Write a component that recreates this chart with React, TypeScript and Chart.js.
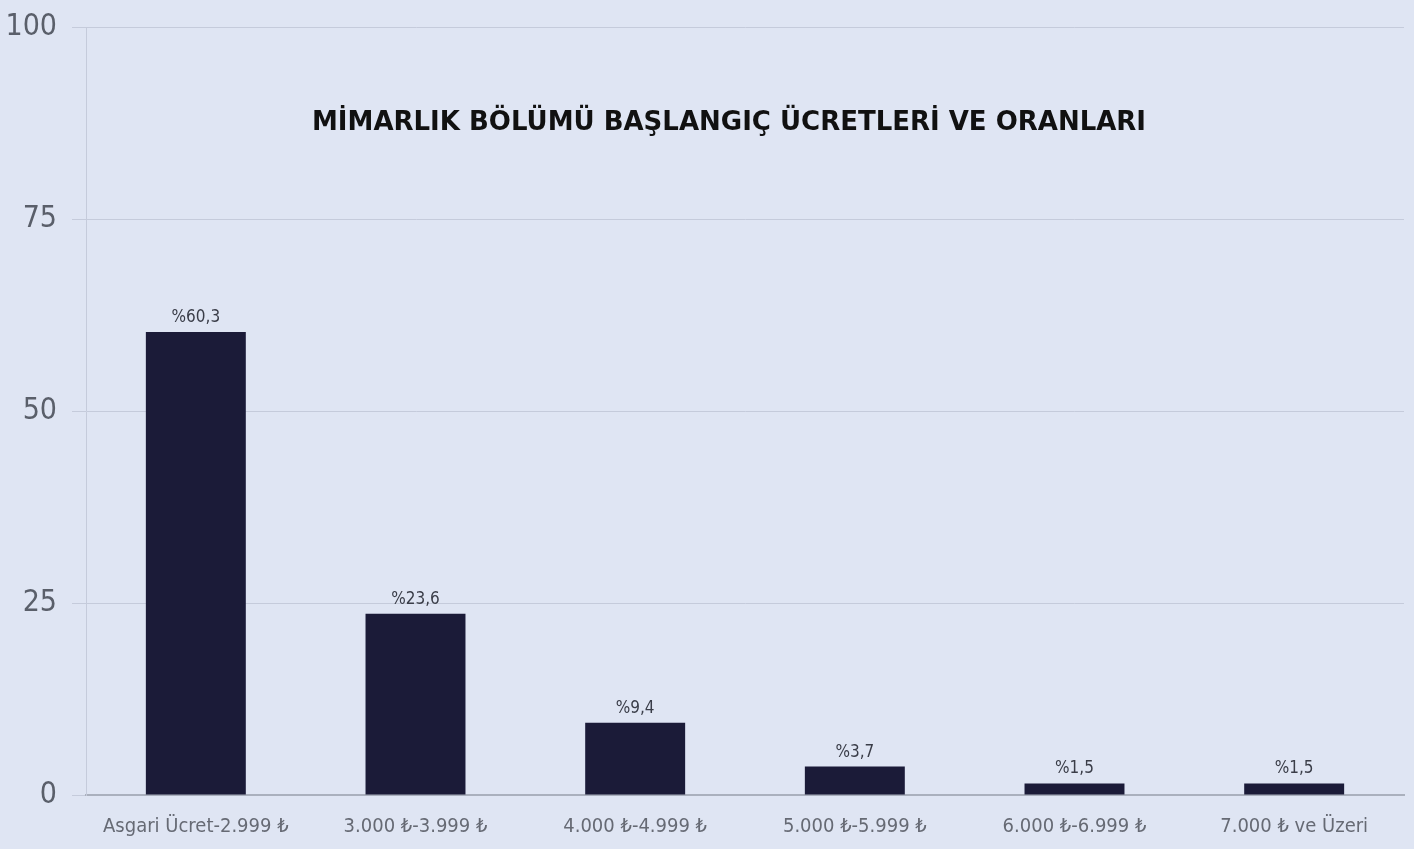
import React, { useEffect, useRef } from "react";
import { Chart, registerables } from "chart.js";

Chart.register(...registerables);

const categories = [
  "Asgari Ücret-2.999 ₺",
  "3.000 ₺-3.999 ₺",
  "4.000 ₺-4.999 ₺",
  "5.000 ₺-5.999 ₺",
  "6.000 ₺-6.999 ₺",
  "7.000 ₺ ve Üzeri",
];
const values = [60.3, 23.6, 9.4, 3.7, 1.5, 1.5];
const valueLabels = ["%60,3", "%23,6", "%9,4", "%3,7", "%1,5", "%1,5"];
const yTicks = [0, 25, 50, 75, 100];
const title = "MİMARLIK BÖLÜMÜ BAŞLANGIÇ ÜCRETLERİ VE ORANLARI";

const NARROW = '"Liberation Sans Narrow", "Arial Narrow", "DejaVu Sans Condensed", sans-serif';

const bgPlugin = {
  id: "bg",
  beforeDraw(chart: any) {
    const ctx = chart.ctx;
    ctx.save();
    ctx.fillStyle = "#dfe5f3";
    ctx.fillRect(0, 0, chart.width, chart.height);
    ctx.restore();
  },
};

const labelPlugin = {
  id: "valueLabels",
  afterDatasetsDraw(chart: any) {
    const ctx = chart.ctx;
    const meta = chart.getDatasetMeta(0);
    ctx.save();
    ctx.fillStyle = "#3a3d48";
    ctx.font = `17px ${NARROW}`;
    ctx.textAlign = "center";
    ctx.textBaseline = "bottom";
    meta.data.forEach((bar: any, i: number) => {
      ctx.fillText(valueLabels[i], bar.x, bar.y - 6);
    });
    // title inside plot area
    const area = chart.chartArea;
    ctx.fillStyle = "#111111";
    ctx.font = 'bold 26px "DejaVu Sans", sans-serif';
    ctx.textBaseline = "middle";
    ctx.fillText(title, (area.left + area.right) / 2 - 16, chart.scales.y.getPixelForValue(87.5));
    ctx.restore();
  },
};

export default function App() {
  const ref = useRef<HTMLCanvasElement>(null);
  useEffect(() => {
    document.body.style.margin = "0";
    const chart = new Chart(ref.current!, {
      type: "bar",
      data: {
        labels: categories,
        datasets: [
          {
            data: values,
            backgroundColor: "#1b1b38",
            barPercentage: 0.455,
            categoryPercentage: 1,
          },
        ],
      },
      options: {
        animation: false,
        responsive: false,
        layout: { padding: { top: 27, right: 10, bottom: 0, left: 0 } },
        plugins: { legend: { display: false }, tooltip: { enabled: false }, title: { display: false } },
        scales: {
          x: {
            grid: { display: false, drawTicks: false },
            border: { display: true, color: "#aab0bd", width: 2 },
            ticks: { color: "#666a74", font: { family: NARROW, size: 20 }, padding: 20, maxRotation: 0 },
            afterFit: (s: any) => { s.height = 54; },
          },
          y: {
            min: 0,
            max: 100,
            afterBuildTicks: (s: any) => { s.ticks = yTicks.map((v) => ({ value: v })); },
            grid: { color: "#c5cbdb", tickLength: 14, lineWidth: 1 },
            border: { display: true, color: "#c5cbdb" },
            ticks: { color: "#5a5f6a", font: { family: NARROW, size: 30, lineHeight: 0.5 }, padding: 15 },
            afterFit: (s: any) => { s.width = 86; s.paddingTop = 0; s.paddingBottom = 0; },
          },
        },
      },
      plugins: [bgPlugin, labelPlugin],
    });
    return () => chart.destroy();
  }, []);
  return (
    <div style={{ width: 1414, height: 849, background: "#dfe5f3" }}>
      <canvas ref={ref} width={1414} height={849} style={{ display: "block" }} />
    </div>
  );
}
